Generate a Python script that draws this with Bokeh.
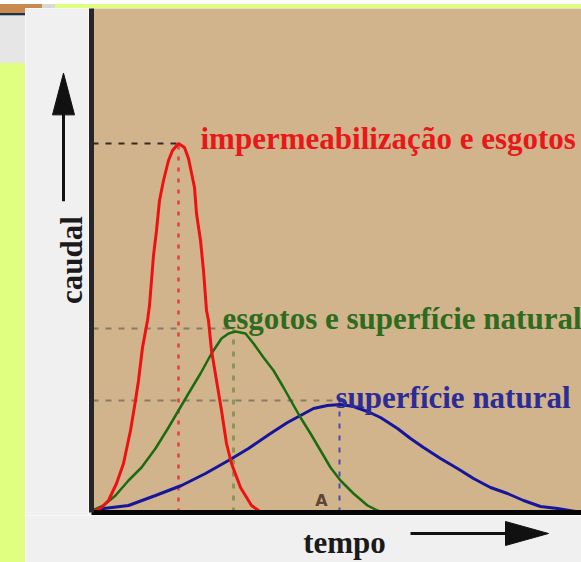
from math import pi
from bokeh.plotting import figure
from bokeh.models import Range1d, FixedTicker, Div
from bokeh.layouts import row, column
from bokeh.core.properties import value
from bokeh.embed import file_html
from bokeh.resources import INLINE

# ---- data (time units along x, discharge units along y) ----
red_t = [0, 3, 9, 16, 24, 31, 38, 43, 46, 50, 55, 57, 59, 61, 64, 67, 71, 76, 80, 86,
         92, 96, 102, 104, 108, 111, 114, 116, 119, 124, 129, 134, 139, 148, 159, 166, 170]
red_q = [0, 2, 5, 12, 29, 49, 82, 112, 132, 165, 192, 207, 232, 257, 282, 312, 332, 352, 362, 369,
         365, 354, 325, 299, 272, 242, 202, 192, 162, 132, 102, 69, 49, 25, 7, 2, 0]

green_t = [0, 11, 23, 36, 49, 63, 76, 86, 96, 108, 119, 129, 136, 143, 153, 161, 171, 181,
           191, 200, 208, 218, 228, 238, 248, 261, 275, 285, 290]
green_q = [2, 7, 17, 32, 45, 64, 85, 102, 119, 139, 159, 174, 179, 181, 179, 169, 155, 142,
           125, 109, 95, 79, 62, 45, 32, 19, 7, 2, 0]

blue_t = [0, 3, 36, 63, 89, 113, 136, 156, 178, 195, 208, 221, 235, 248, 261, 275, 288, 305,
          318, 331, 348, 365, 381, 398, 415, 431, 448, 465, 471, 483]
blue_q = [1, 3, 7, 17, 27, 39, 52, 64, 79, 90, 97, 104, 107, 108, 106, 101, 95, 84,
          74, 65, 54, 44, 34, 25, 19, 12, 6, 4, 3, 1]

peak_t = [86, 141, 247]
peak_q = [369, 184, 112]

labels = ["impermeabilização e esgotos", "esgotos e superfície natural", "superfície natural"]
label_t = [108, 130, 243]
label_q = [374, 194, 115]
label_colors = ["#e81818", "#2d6b1f", "#2c2c96"]

marker_text = ["A"]
marker_t = [229]
marker_q = [12]

y_title = "caudal"
x_title = "tempo"

SERIF = "Liberation Serif"
PANEL = "#f0f0f0"
INK = "#111111"

# ---------------- main chart ----------------
p = figure(width=493, height=507, output_backend="svg", toolbar_location=None,
           x_range=Range1d(-1, 489), y_range=Range1d(0, 504),
           min_border_left=3, min_border_right=0, min_border_top=0, min_border_bottom=3,
           title=None)
p.background_fill_color = "#d2b48c"
p.border_fill_color = PANEL
p.outline_line_color = None
p.grid.visible = False

for ax in (p.xaxis, p.yaxis):
    ax.ticker = FixedTicker(ticks=[])
    ax.major_tick_out = 0
    ax.major_tick_in = 0
    ax.major_tick_line_color = None
    ax.minor_tick_line_color = None
    ax.major_label_text_font_size = "0px"
    ax.axis_line_width = 5
p.xaxis.axis_line_color = "#050505"
p.yaxis.axis_line_color = "#262626"

# peak guide lines
h_colors = ["#352a22", "#8a7868", "#8a7868"]
v_colors = ["#e04040", "#8a9655", "#4a4aa8"]
v_dash = ["4 7", "5 7", "5 7"]
v_width = [2.5, 3, 2]
for i in range(3):
    p.segment(x0=[0], y0=[peak_q[i]], x1=[peak_t[i]], y1=[peak_q[i]],
              line_color=h_colors[i], line_width=2, line_dash="6 7")
    p.segment(x0=[peak_t[i]], y0=[0], x1=[peak_t[i]], y1=[peak_q[i]],
              line_color=v_colors[i], line_width=v_width[i], line_dash=v_dash[i])

# hydrographs
p.line(blue_t, blue_q, line_color="#16169a", line_width=3)
p.line(green_t, green_q, line_color="#1a6b12", line_width=2.5)
p.line(red_t, red_q, line_color="#ee1111", line_width=3)

p.text(x=label_t, y=label_q, text=labels, text_color=label_colors,
       text_font=value(SERIF), text_font_size="31px", text_font_style="bold",
       text_align="left", text_baseline="alphabetic")
p.text(x=marker_t, y=marker_q, text=marker_text, text_color="#5d4636",
       text_font=value("DejaVu Sans"), text_font_size="16px", text_font_style="bold",
       text_align="center", text_baseline="alphabetic")

# ---------------- left title strip (same vertical scale) ----------------
left = figure(width=63, height=507, output_backend="svg", toolbar_location=None,
              x_range=Range1d(-67, -4), y_range=Range1d(-3, 504),
              x_axis_type=None, y_axis_type=None, min_border=0, title=None)
left.background_fill_color = PANEL
left.border_fill_color = PANEL
left.outline_line_color = None
left.grid.visible = False
left.segment(x0=[-29], y0=[310], x1=[-29], y1=[400], line_color=INK, line_width=3)
left.patch(x=[-29, -40, -18], y=[439, 397, 397], fill_color=INK, line_color=INK)
left.text(x=[-21], y=[251], text=[y_title], angle=pi / 2, text_color="#1a1a1a",
          text_font=value(SERIF), text_font_size="31px", text_font_style="bold",
          text_align="center", text_baseline="alphabetic")

# ---------------- bottom title strip (same horizontal scale) ----------------
bottom = figure(width=556, height=47, output_backend="svg", toolbar_location=None,
                x_range=Range1d(-67, 489), y_range=Range1d(-50, -3),
                x_axis_type=None, y_axis_type=None, min_border=0, title=None)
bottom.background_fill_color = PANEL
bottom.border_fill_color = PANEL
bottom.outline_line_color = None
bottom.grid.visible = False
bottom.text(x=[252], y=[-30], text=[x_title], text_color="#1a1a1a",
            text_font=value(SERIF), text_font_size="31px", text_font_style="bold",
            text_align="center", text_baseline="alphabetic")
bottom.segment(x0=[318], y0=[-21], x1=[416], y1=[-21], line_color=INK, line_width=3)
bottom.patch(x=[456, 413, 413], y=[-21, -9, -33], fill_color=INK, line_color=INK)

# ---------------- page decoration ----------------
top_band = Div(text='<div style="width:581px;height:8px;background:linear-gradient(to right,'
                    '#c98a52 0px,#c98a52 42px,#d8d8d8 42px,#d8d8d8 55px,#e0ff80 55px,#e0ff80 581px)"></div>',
               width=581, height=8, margin=0, styles={"padding": "0", "overflow": "hidden"})
strip = Div(text='<div style="width:25px;height:554px;background:linear-gradient(to bottom,'
                 '#c98a52 0px,#c98a52 5px,#223344 5px,#223344 7px,#9fb3c8 7px,#9fb3c8 8px,'
                 '#e6e6e6 8px,#e6e6e6 55px,#e0ff80 55px,#e0ff80 554px)"></div>',
            width=25, height=554, margin=0, styles={"padding": "0", "overflow": "hidden"})

layout = column(top_band,
                row(strip, column(row(left, p), bottom)))
open("out.html", "w").write(file_html(layout, INLINE))
